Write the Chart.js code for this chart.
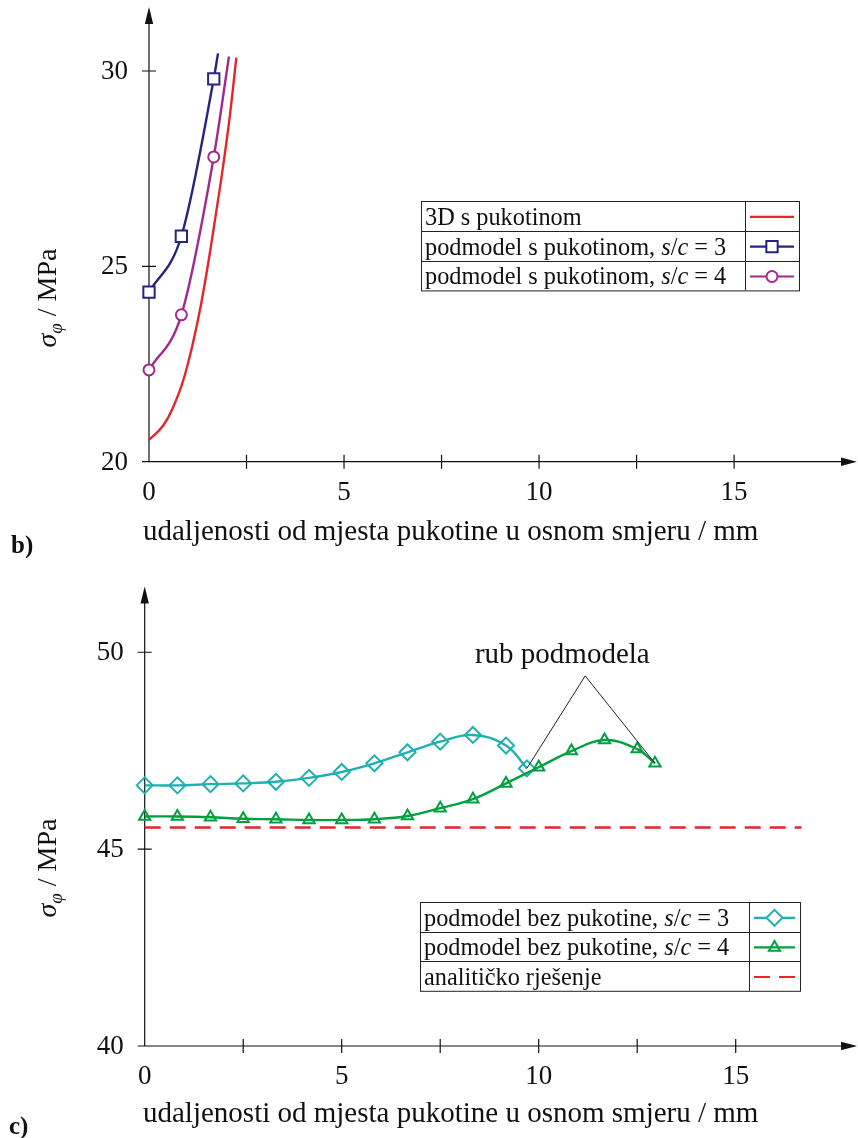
<!DOCTYPE html>
<html><head><meta charset="utf-8">
<script src="https://cdn.jsdelivr.net/npm/chart.js@4.4.0/dist/chart.umd.min.js"></script>
<style>
html,body{margin:0;padding:0;background:#fff;}
#wrap{position:relative;width:858px;height:1138px;overflow:hidden;}
canvas{position:absolute;left:0;}
</style></head><body>
<div id="wrap">
<canvas id="c1" width="858" height="560" style="top:0"></canvas>
<canvas id="c2" width="858" height="578" style="top:560px"></canvas>
</div>
<script>
// ---------- DATA (panel b) ----------
const redX    = [0, 0.36, 0.6, 0.92, 1.3, 1.57, 1.84, 2.06, 2.24];
const redY    = [20.56, 20.92, 21.35, 22.22, 23.85, 25.4, 27.15, 28.75, 30.34];
const blueX   = [0, 0.83, 1.66, 1.77];
const blueY   = [24.34, 25.77, 29.8, 30.45];
const purpleX = [0, 0.83, 1.66, 2.05];
const purpleY = [22.35, 23.76, 27.8, 30.37];
const topYTicks = [20, 25, 30];

// ---------- DATA (panel c) ----------
const cyanX  = [0, 0.83, 1.67, 2.5, 3.33, 4.17, 5, 5.83, 6.67, 7.5, 8.33, 9.17, 9.7];
const cyanY  = [46.62, 46.62, 46.65, 46.67, 46.71, 46.81, 46.96, 47.18, 47.46, 47.73, 47.90, 47.63, 47.05];
const greenX = [0, 0.83, 1.67, 2.5, 3.33, 4.17, 5, 5.83, 6.67, 7.5, 8.33, 9.17, 10, 10.83, 11.67, 12.5, 12.95];
const greenY = [45.83, 45.83, 45.81, 45.77, 45.76, 45.74, 45.74, 45.76, 45.84, 46.04, 46.27, 46.67, 47.08, 47.49, 47.77, 47.54, 47.18];
const analX  = [0, 16.67];
const analY  = [45.55, 45.55];
const botYTicks = [40, 45, 50];

// ---------- shared ----------
const xTickLabels = [0, 5, 10, 15];
const xTickMarks  = [2.5, 5, 7.5, 10, 12.5, 15];
const xTitle = 'udaljenosti od mjesta pukotine u osnom smjeru / mm';
const legendTop = [
  {parts:[['3D s pukotinom',0]], color:'#e3262b', marker:null},
  {parts:[['podmodel s pukotinom, ',0],['s',1],['/',0],['c',1],[' = 3',0]], color:'#27247f', marker:'rect'},
  {parts:[['podmodel s pukotinom, ',0],['s',1],['/',0],['c',1],[' = 4',0]], color:'#a3288c', marker:'circle'}
];
const legendBot = [
  {parts:[['podmodel bez pukotine, ',0],['s',1],['/',0],['c',1],[' = 3',0]], color:'#1fb0b0', marker:'rectRot'},
  {parts:[['podmodel bez pukotine, ',0],['s',1],['/',0],['c',1],[' = 4',0]], color:'#00a040', marker:'triangle'},
  {parts:[['analitičko rješenje',0]], color:'#e3262b', marker:null, dash:true}
];
const annotText = 'rub podmodela';

const SERIF = '"Liberation Serif", "DejaVu Serif", serif';
const zip = (xs, ys) => xs.map((x, i) => ({x, y: ys[i]}));

function drawMarker(ctx, style, x, y, r, color){
  ctx.save();
  ctx.strokeStyle = color; ctx.lineWidth = 2; ctx.fillStyle = '#fff';
  ctx.beginPath();
  if (style === 'rect') { const s = Math.SQRT1_2 * r; ctx.rect(x - s, y - s, 2*s, 2*s); ctx.fill(); }
  else if (style === 'circle') { ctx.arc(x, y, r, 0, Math.PI*2); ctx.fill(); }
  else if (style === 'rectRot') { ctx.moveTo(x-r,y); ctx.lineTo(x,y-r); ctx.lineTo(x+r,y); ctx.lineTo(x,y+r); ctx.closePath(); ctx.fill(); }
  else if (style === 'triangle') { for (let k=0;k<3;k++){ const a = k*2*Math.PI/3; const px = x + Math.sin(a)*r, py = y - Math.cos(a)*r; k?ctx.lineTo(px,py):ctx.moveTo(px,py);} ctx.closePath(); }
  ctx.stroke();
  ctx.restore();
}

function drawParts(ctx, parts, x, y, size){
  let cx = x;
  for (const [t, it] of parts) {
    ctx.font = (it ? 'italic ' : '') + size + 'px ' + SERIF;
    ctx.fillText(t, cx, y);
    cx += ctx.measureText(t).width;
  }
}

function makePlugin(o){
  return {
    id: 'custom' + o.id,
    beforeDatasetsDraw(chart){
      const ctx = chart.ctx, xs = chart.scales.x, ys = chart.scales.y;
      const x0 = xs.getPixelForValue(0), y0 = ys.getPixelForValue(o.yMin);
      const xe = xs.getPixelForValue(o.xArrow), ye = ys.getPixelForValue(o.yArrow);
      ctx.save();
      ctx.strokeStyle = '#111'; ctx.fillStyle = '#111'; ctx.lineWidth = 1.2;
      ctx.beginPath();
      ctx.moveTo(x0 - 7, y0); ctx.lineTo(xe - 12, y0);
      ctx.moveTo(x0, y0); ctx.lineTo(x0, ye + 12);
      for (const v of xTickMarks) { const p = xs.getPixelForValue(v); ctx.moveTo(p, y0 - 7); ctx.lineTo(p, y0 + 7); }
      for (const v of o.yTicks.slice(1)) { const p = ys.getPixelForValue(v); ctx.moveTo(x0 - 7, p); ctx.lineTo(x0 + 7, p); }
      ctx.stroke();
      ctx.beginPath(); ctx.moveTo(xe, y0); ctx.lineTo(xe - 16, y0 - 4.2); ctx.lineTo(xe - 16, y0 + 4.2); ctx.closePath(); ctx.fill();
      ctx.beginPath(); ctx.moveTo(x0, ye); ctx.lineTo(x0 - 4.2, ye + 17); ctx.lineTo(x0 + 4.2, ye + 17); ctx.closePath(); ctx.fill();
      ctx.restore();
    },
    afterDraw(chart){
      const ctx = chart.ctx, xs = chart.scales.x, ys = chart.scales.y;
      const x0 = xs.getPixelForValue(0), y0 = ys.getPixelForValue(o.yMin);
      ctx.save();
      ctx.fillStyle = '#111';
      ctx.font = '27px ' + SERIF;
      ctx.textBaseline = 'middle';
      ctx.textAlign = 'right';
      for (const v of o.yTicks) ctx.fillText(String(v), x0 - 21, ys.getPixelForValue(v) + 1);
      ctx.textAlign = 'center';
      for (const v of xTickLabels) ctx.fillText(String(v), xs.getPixelForValue(v), y0 + 31);
      ctx.font = '29px ' + SERIF;
      ctx.textBaseline = 'alphabetic';
      ctx.textAlign = 'left';
      ctx.fillText(xTitle, o.titleX, o.titleY);
      ctx.font = 'bold 25px ' + SERIF;
      ctx.fillText(o.panel, o.panelX, o.panelY);
      // y title
      ctx.save();
      ctx.translate(o.yTitleX, o.yTitleY);
      ctx.rotate(-Math.PI/2);
      ctx.font = 'italic 28px ' + SERIF; const w1 = ctx.measureText('σ').width;
      ctx.font = 'italic 19px ' + SERIF; const w2 = ctx.measureText('φ').width;
      ctx.font = '28px ' + SERIF; const w3 = ctx.measureText(' / MPa').width;
      let sx = -(w1 + w2 + w3) / 2;
      ctx.font = 'italic 28px ' + SERIF; ctx.fillText('σ', sx, 0); sx += w1;
      ctx.font = 'italic 19px ' + SERIF; ctx.fillText('φ', sx, 6); sx += w2;
      ctx.font = '28px ' + SERIF; ctx.fillText(' / MPa', sx, 0);
      ctx.restore();
      // legend table
      const L = o.legend;
      ctx.strokeStyle = '#222'; ctx.lineWidth = 1;
      ctx.strokeRect(L.left + 0.5, L.top + 0.5, L.right - L.left, L.rowH * 3);
      ctx.beginPath();
      for (let i = 1; i < 3; i++) { const yy = Math.round(L.top + i * L.rowH) + 0.5; ctx.moveTo(L.left, yy); ctx.lineTo(L.right, yy); }
      ctx.moveTo(L.div + 0.5, L.top); ctx.lineTo(L.div + 0.5, L.top + L.rowH * 3);
      ctx.stroke();
      o.legendItems.forEach((it, i) => {
        const rowTop = L.top + i * L.rowH;
        ctx.fillStyle = '#111';
        drawParts(ctx, it.parts, L.left + 4, rowTop + L.rowH - 6, 24.3);
        const cy = rowTop + L.rowH / 2 + 1;
        ctx.save();
        ctx.strokeStyle = it.color; ctx.lineWidth = 2.2;
        if (it.dash) ctx.setLineDash([16, 9]);
        ctx.beginPath(); ctx.moveTo(L.div + 5, cy); ctx.lineTo(L.right - 5, cy); ctx.stroke();
        ctx.restore();
        if (it.marker) drawMarker(ctx, it.marker, (L.div + L.right) / 2, cy, it.marker === 'rect' ? 8 : it.marker === 'circle' ? 5.5 : it.marker === 'rectRot' ? 8 : 6.5, it.color);
      });
      // annotation
      if (o.annot) {
        const a = o.annot;
        const ax = xs.getPixelForValue(a.apex[0]), ay = ys.getPixelForValue(a.apex[1]);
        ctx.strokeStyle = '#222'; ctx.lineWidth = 1;
        ctx.beginPath();
        for (const [px, py] of a.targets) { ctx.moveTo(ax, ay); ctx.lineTo(xs.getPixelForValue(px), ys.getPixelForValue(py)); }
        ctx.stroke();
        ctx.fillStyle = '#111';
        ctx.font = '29px ' + SERIF; ctx.textAlign = 'center';
        ctx.fillText(annotText, xs.getPixelForValue(a.text[0]), ys.getPixelForValue(a.text[1]));
      }
      ctx.restore();
    }
  };
}

Chart.defaults.animation = false;

// ---------- panel b ----------
new Chart(document.getElementById('c1'), {
  type: 'line',
  data: { datasets: [
    { data: zip(redX, redY), borderColor: '#e3262b', borderWidth: 2.4, pointRadius: 0, cubicInterpolationMode: 'monotone', clip: false },
    { data: zip(blueX, blueY), borderColor: '#27247f', borderWidth: 2.4, pointStyle: 'rect', pointBorderWidth: 2,
      pointRadius: c => c.dataIndex < blueX.length - 1 ? 8 : 0, pointBackgroundColor: '#fff', pointBorderColor: '#27247f', cubicInterpolationMode: 'monotone', clip: false },
    { data: zip(purpleX, purpleY), borderColor: '#a3288c', borderWidth: 2.4, pointStyle: 'circle', pointBorderWidth: 2,
      pointRadius: c => c.dataIndex < purpleX.length - 1 ? 5.5 : 0, pointBackgroundColor: '#fff', pointBorderColor: '#a3288c', cubicInterpolationMode: 'monotone', clip: false }
  ]},
  options: {
    responsive: false, animation: false, events: [],
    layout: { autoPadding: false, padding: { left: 149, right: 10, top: 12.4, bottom: 98.3 } },
    plugins: { legend: { display: false }, tooltip: { enabled: false } },
    scales: {
      x: { type: 'linear', min: 0, max: 17.92, display: false },
      y: { type: 'linear', min: 20, max: 31.5, display: false }
    }
  },
  plugins: [makePlugin({
    id: 'b', yMin: 20, yTicks: topYTicks, xArrow: 18.15, yArrow: 31.64,
    titleX: 143, titleY: 540, panel: 'b)', panelX: 11, panelY: 553,
    yTitleX: 56, yTitleY: 298,
    legend: { left: 421, top: 201, right: 799, rowH: 29.8, div: 745 },
    legendItems: legendTop
  })]
});

// ---------- panel c ----------
new Chart(document.getElementById('c2'), {
  type: 'line',
  data: { datasets: [
    { data: zip(analX, analY), borderColor: '#e3262b', borderWidth: 2.4, borderDash: [16, 9], pointRadius: 0, tension: 0, clip: false },
    { data: zip(greenX, greenY), borderColor: '#00a040', borderWidth: 2.4, pointStyle: 'triangle', pointRadius: 6.5, pointBorderWidth: 2,
      pointBackgroundColor: 'rgba(0,0,0,0)', pointBorderColor: '#00a040', tension: 0.4, clip: false },
    { data: zip(cyanX, cyanY), borderColor: '#1fb0b0', borderWidth: 2.4, pointStyle: 'rectRot', pointRadius: 8, pointBorderWidth: 2,
      pointBackgroundColor: 'rgba(0,0,0,0)', pointBorderColor: '#1fb0b0', tension: 0.4, clip: false }
  ]},
  options: {
    responsive: false, animation: false, events: [],
    layout: { autoPadding: false, padding: { left: 144.7, right: 10, top: 33.2, bottom: 92 } },
    plugins: { legend: { display: false }, tooltip: { enabled: false } },
    scales: {
      x: { type: 'linear', min: 0, max: 17.85, display: false },
      y: { type: 'linear', min: 40, max: 51.5, display: false }
    }
  },
  plugins: [makePlugin({
    id: 'c', yMin: 40, yTicks: botYTicks, xArrow: 18.08, yArrow: 51.67,
    titleX: 143, titleY: 562, panel: 'c)', panelX: 9, panelY: 574,
    yTitleX: 56, yTitleY: 308,
    legend: { left: 420, top: 342, right: 800, rowH: 29.6, div: 749 },
    legendItems: legendBot,
    annot: { apex: [11.18, 49.4], targets: [[9.7, 47.05], [12.95, 47.18]], text: [10.6, 49.73] }
  })]
});
</script>
</body></html>
